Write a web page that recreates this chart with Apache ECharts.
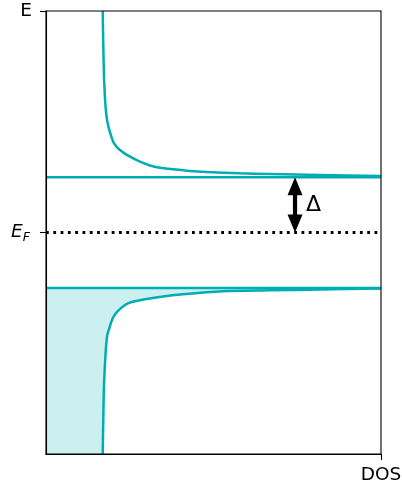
<!DOCTYPE html>
<html>
<head>
<meta charset="utf-8">
<script src="https://cdn.jsdelivr.net/npm/echarts@6/dist/echarts.min.js"></script>
<style>
  html, body { margin: 0; padding: 0; background: #fff; }
  #chart { width: 402px; height: 488px; }
</style>
</head>
<body>
<div id="chart"></div>
<script>
// Superconducting density of states around the Fermi level (energies in units of the gap).
const gap = 1.0;
const fermiLevel = 0.0;
const energyRange = [-4, 4];
const dosRange = [0, 6];

// Quasiparticle branch above the gap: DOS value and energy
const upperDOS = [1.016, 1.026, 1.039, 1.050, 1.062, 1.078, 1.098, 1.124, 1.164, 1.218, 1.325, 1.505, 1.684, 1.863, 2.042, 2.280, 2.579, 2.878, 3.475, 4.012, 4.908, 6.0];
const upperE   = [4.0,   3.386, 2.808, 2.560, 2.330, 2.150, 2.010, 1.890, 1.752, 1.611, 1.490, 1.369, 1.279, 1.210, 1.170, 1.141, 1.111, 1.093, 1.069, 1.056, 1.038, 1.020];
// Occupied branch below the gap
const lowerDOS = [1.016, 1.026, 1.039, 1.069, 1.098, 1.134, 1.195, 1.277, 1.415, 1.535, 1.702, 2.042, 2.454, 3.17, 4.012, 4.908, 6.0];
const lowerE   = [-4.0,  -3.386, -2.754, -2.153, -1.851, -1.730, -1.549, -1.430, -1.309, -1.255, -1.220, -1.165, -1.116, -1.062, -1.044, -1.029, -1.011];

// Axis tick labels
const yTickValues = [0, 4];
const xTickValues = [6];
const xTickLabel = 'DOS';

const teal = '#00adb5';
const fillColor = 'rgba(0,173,181,0.2)';
const font = 'DejaVu Sans';

const zip = (a, b) => a.map((v, i) => [v, b[i]]);

const chart = echarts.init(document.getElementById('chart'), null, { renderer: 'canvas' });

const option = {
  animation: false,
  grid: {
    left: 46, right: 21, top: 11, bottom: 34, outerBoundsMode: 'none', containLabel: false,
    show: true, borderColor: '#000', borderWidth: 1.1, backgroundColor: 'transparent', z: 10
  },
  xAxis: {
    type: 'value', min: dosRange[0], max: dosRange[1], z: 10,
    axisLine: { show: true, onZero: false, lineStyle: { color: '#000', width: 1.1 } },
    axisTick: { show: true, customValues: xTickValues, length: 6, lineStyle: { color: '#000', width: 1.1 } },
    axisLabel: { show: true, customValues: xTickValues, formatter: () => xTickLabel, margin: 12, color: '#000', fontFamily: font, fontSize: 18.5 },
    splitLine: { show: false }
  },
  yAxis: {
    type: 'value', min: energyRange[0], max: energyRange[1], z: 10,
    axisLine: { show: true, onZero: false, lineStyle: { color: '#000', width: 1.1 } },
    axisTick: { show: true, customValues: yTickValues, length: 6, lineStyle: { color: '#000', width: 1.1 } },
    axisLabel: {
      show: true, customValues: yTickValues, margin: 14, color: '#000', fontFamily: font, fontSize: 18.5,
      formatter: v => (v === 4 ? 'E' : '{a|E}{b|F}'),
      rich: {
        a: { fontFamily: font, fontStyle: 'italic', fontSize: 18.5, color: '#000', verticalAlign: 'middle' },
        b: { fontFamily: font, fontStyle: 'italic', fontSize: 12.5, color: '#000', padding: [10, 2, 0, 0], verticalAlign: 'middle' }
      }
    },
    splitLine: { show: false }
  },
  series: [
    {
      // occupied states below the gap
      type: 'custom', z: 1, silent: true,
      data: [0],
      renderItem: (params, api) => {
        const pts = [api.coord([dosRange[0], energyRange[0]])];
        for (let i = 0; i < lowerDOS.length; i++) pts.push(api.coord([lowerDOS[i], lowerE[i]]));
        pts.push(api.coord([dosRange[1], -gap]));
        pts.push(api.coord([dosRange[0], -gap]));
        return { type: 'polygon', shape: { points: pts, smooth: 0 }, style: { fill: fillColor } };
      }
    },
    {
      type: 'line', z: 3, showSymbol: false, smooth: 0.3, silent: true,
      data: zip(upperDOS, upperE),
      lineStyle: { color: teal, width: 2.5 }
    },
    {
      type: 'line', z: 3, showSymbol: false, smooth: 0.3, silent: true,
      data: zip(lowerDOS, lowerE),
      lineStyle: { color: teal, width: 2.5 }
    },
    {
      type: 'line', z: 3, showSymbol: false, silent: true,
      data: [[dosRange[0], gap], [dosRange[1], gap]],
      lineStyle: { color: teal, width: 2.5 }
    },
    {
      type: 'line', z: 3, showSymbol: false, silent: true,
      data: [[dosRange[0], -gap], [dosRange[1], -gap]],
      lineStyle: { color: teal, width: 2.5 }
    },
    {
      // Fermi level
      type: 'line', z: 4, showSymbol: false, silent: true,
      data: [[dosRange[0], fermiLevel], [dosRange[1], fermiLevel]],
      lineStyle: { color: '#000', width: 2.8, type: [2.8, 4.5] }
    },
    {
      // gap arrow with label
      type: 'custom', z: 5, silent: true,
      data: [[4.46, fermiLevel, gap]],
      renderItem: (params, api) => {
        const top = api.coord([api.value(0), api.value(2)]);
        const bot = api.coord([api.value(0), api.value(1)]);
        const x = top[0];
        const headL = 18, headW = 7.5;
        return {
          type: 'group',
          children: [
            { type: 'line', shape: { x1: x, y1: top[1] + headL - 2, x2: x, y2: bot[1] - headL + 2 }, style: { stroke: '#000', lineWidth: 4.2 } },
            { type: 'polygon', shape: { points: [[x, top[1]], [x - headW, top[1] + headL], [x + headW, top[1] + headL]] }, style: { fill: '#000' } },
            { type: 'polygon', shape: { points: [[x, bot[1]], [x - headW, bot[1] - headL], [x + headW, bot[1] - headL]] }, style: { fill: '#000' } },
            { type: 'text', style: { text: 'Δ', x: x + 11, y: (top[1] + bot[1]) / 2, textVerticalAlign: 'middle', textAlign: 'left', font: '22px "DejaVu Sans"', fill: '#000' } }
          ]
        };
      }
    }
  ]
};

chart.setOption(option);
</script>
</body>
</html>
